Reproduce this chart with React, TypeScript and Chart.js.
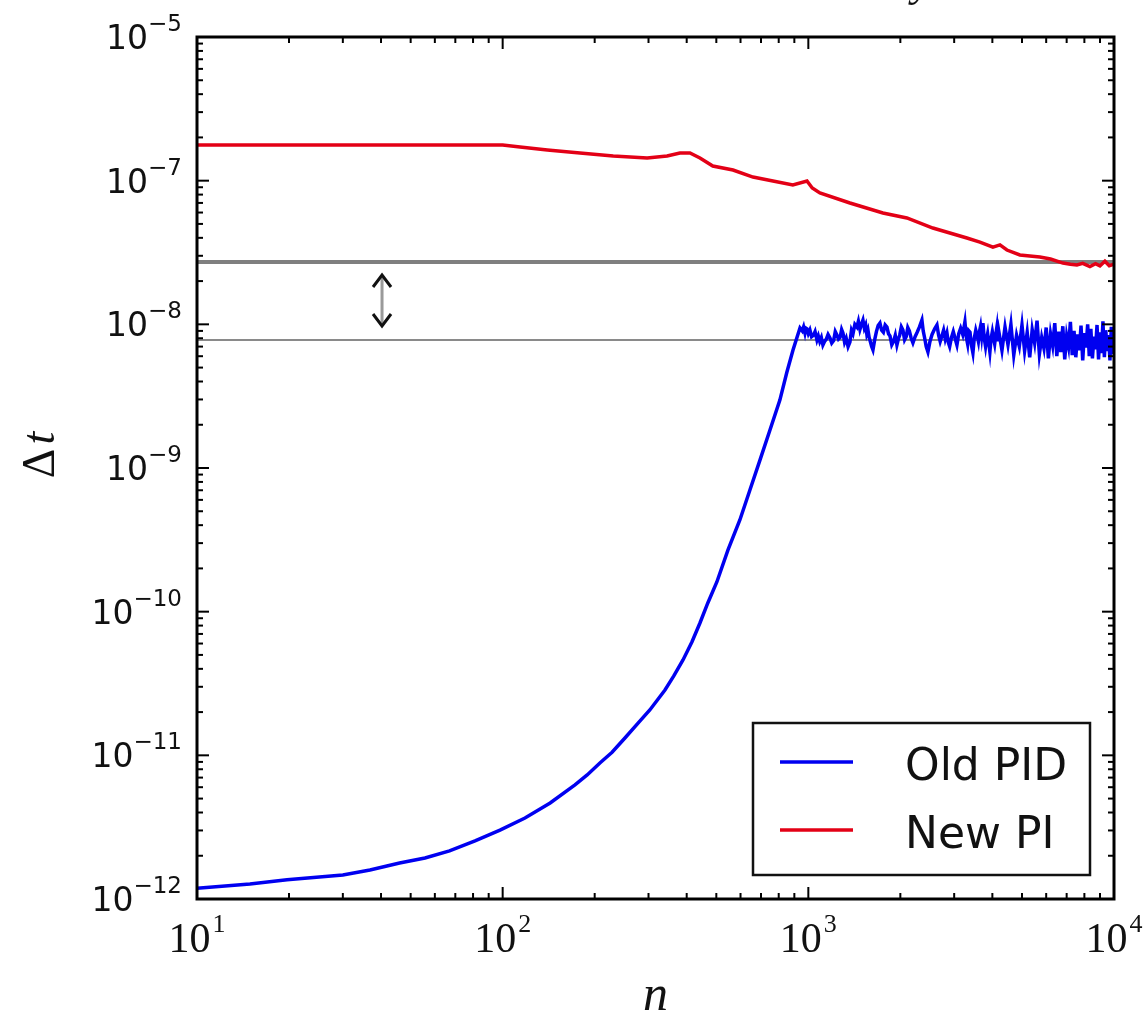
import React, { useEffect, useRef } from 'react';
import { Chart, registerables } from 'chart.js';

Chart.register(...registerables);

const W = 1146;
const H = 1025;

// ---------- data ----------
// Old PID: rising part
const oldPidRiseN = [
  10, 14.9, 19.7, 30, 36.8, 46, 55.7, 67, 81.2, 98, 118.3, 143, 172.4, 189, 208, 228, 251.2, 281, 303, 339.6, 363, 389, 416, 442,
  469, 502, 546, 597, 644, 695, 749, 807, 851, 891, 939,
];
const oldPidRiseDt = [
  1.19e-12, 1.27e-12, 1.36e-12, 1.47e-12, 1.59e-12, 1.78e-12, 1.93e-12, 2.16e-12, 2.54e-12, 3.02e-12, 3.66e-12, 4.66e-12, 6.22e-12,
  7.3e-12, 8.85e-12, 1.05e-11, 1.32e-11, 1.73e-11, 2.07e-11, 2.85e-11, 3.57e-11, 4.61e-11, 6.15e-11, 8.34e-11, 1.15e-10, 1.61e-10,
  2.69e-10, 4.35e-10, 7.03e-10, 1.14e-9, 1.84e-9, 2.97e-9, 4.66e-9, 6.63e-9, 9.43e-9,
];
// Old PID: noisy plateau, first part
const oldPidMidN = [
  955, 965, 975, 982, 990, 1000, 1012, 1025, 1040, 1052, 1067, 1078, 1090, 1103, 1116, 1130, 1145, 1160, 1177, 1193,
  1210, 1225, 1240, 1255, 1270, 1285, 1298, 1314, 1330, 1349, 1368, 1384, 1400, 1420, 1442, 1458, 1475, 1492, 1509, 1525,
  1540, 1553, 1567, 1581, 1595, 1611, 1627, 1648, 1670, 1692, 1715, 1737, 1760, 1784, 1808, 1829, 1850, 1875, 1900, 1925,
  1949, 1970, 1990, 2015, 2039, 2065, 2090, 2115, 2140, 2170, 2199, 2235, 2270, 2310, 2353, 2376, 2400, 2430, 2462, 2500,
  2540, 2590, 2635, 2668, 2700, 2735, 2770, 2805, 2841, 2870, 2900, 2940, 2980, 3020, 3063, 3105, 3150, 3200, 3253, 3285,
  3320, 3350, 3380, 3415, 3455, 3490, 3530, 3565, 3600, 3630, 3660, 3690, 3726, 3760, 3800, 3830, 3860, 3890, 3926, 3960,
  4000, 4035, 4070, 4105, 4139, 4170,
];
const oldPidMidDt = [
  9.0e-9, 9.6e-9, 8.7e-9, 9.4e-9, 9.3e-9, 8.6e-9, 9.13e-9, 8.2e-9, 8.4e-9, 8.9e-9, 7.78e-9, 8.3e-9, 7.6e-9, 8.1e-9, 7.18e-9, 7.6e-9, 7.9e-9, 8.5e-9, 8.03e-9, 7.4e-9,
  7.7e-9, 8.9e-9, 8.43e-9, 7.9e-9, 8.1e-9, 9.2e-9, 8.7e-9, 7.5e-9, 8.0e-9, 7.0e-9, 7.54e-9, 9.1e-9, 8.6e-9, 1.0e-8, 9.58e-9, 1.05e-8, 9.2e-9, 1.0e-8, 1.07e-8, 9.4e-9,
  9.9e-9, 8.6e-9, 9.13e-9, 8.1e-9, 7.6e-9, 7.0e-9, 6.63e-9, 7.8e-9, 8.9e-9, 9.8e-9, 1.02e-8, 9.1e-9, 8.8e-9, 9.9e-9, 9.58e-9, 8.6e-9, 8.3e-9, 7.2e-9, 7.6e-9, 8.4e-9,
  7.18e-9, 7.9e-9, 8.4e-9, 9.6e-9, 9.13e-9, 7.8e-9, 8.2e-9, 9.5e-9, 9.0e-9, 8.0e-9, 7.42e-9, 8.2e-9, 8.8e-9, 9.6e-9, 1.07e-8, 9.0e-9, 8.1e-9, 7.0e-9, 6.42e-9, 7.6e-9,
  8.5e-9, 9.3e-9, 9.89e-9, 8.4e-9, 7.6e-9, 8.3e-9, 9.1e-9, 7.9e-9, 8.7e-9, 7.5e-9, 7.0e-9, 8.1e-9, 8.9e-9, 8.0e-9, 7.18e-9, 8.6e-9, 9.4e-9, 8.5e-9, 1.04e-8, 8.2e-9,
  7.3e-9, 9.0e-9, 8.8e-9, 7.2e-9, 6.32e-9, 8.0e-9, 9.1e-9, 8.4e-9, 7.6e-9, 8.9e-9, 9.7e-9, 8.3e-9, 1.02e-8, 8.1e-9, 7.0e-9, 7.9e-9, 8.6e-9, 7.5e-9, 6.42e-9, 7.9e-9,
  8.9e-9, 8.0e-9, 7.3e-9, 8.5e-9, 9.58e-9, 7.6e-9,
];
// Old PID: noisy plateau, dense tail
const oldPidTailN = [
  4200, 4300, 4400, 4500, 4600, 4700, 4800, 4900, 5000, 5100, 5200, 5300, 5400, 5500, 5600, 5700, 5800, 5900, 6000, 6100,
  6200, 6300, 6400, 6500, 6600, 6700, 6800, 6900, 7000, 7100, 7200, 7300, 7400, 7500, 7600, 7700, 7800, 7900, 8000, 8100,
  8200, 8300, 8400, 8500, 8600, 8700, 8800, 8900, 9000, 9100, 9200, 9300, 9400, 9500, 9600, 9700, 9800, 9900, 10000,
];
const oldPidTailDt = [
  8.9e-9, 6.6e-9, 9.6e-9, 7.2e-9, 1.0e-8, 6.1e-9, 8.4e-9, 7.0e-9, 9.9e-9, 6.5e-9, 8.8e-9, 5.9e-9, 9.2e-9, 7.4e-9, 1.06e-8, 6.2e-9, 8.1e-9, 6.8e-9, 9.5e-9, 5.8e-9,
  8.6e-9, 7.1e-9, 1.02e-8, 6.0e-9, 8.9e-9, 6.4e-9, 9.7e-9, 5.7e-9, 8.3e-9, 7.0e-9, 1.04e-8, 6.1e-9, 9.0e-9, 5.9e-9, 8.5e-9, 6.6e-9, 9.8e-9, 5.6e-9, 8.7e-9, 6.9e-9,
  1.0e-8, 6.0e-9, 9.3e-9, 5.8e-9, 8.2e-9, 6.7e-9, 9.9e-9, 5.7e-9, 8.8e-9, 6.3e-9, 1.05e-8, 5.9e-9, 9.1e-9, 6.5e-9, 8.4e-9, 5.6e-9, 9.6e-9, 6.2e-9, 8.0e-9,
];

const newPiN = [
  10, 100, 114, 140, 179, 230, 297, 345, 380, 410, 442, 487, 567, 659, 766, 890, 990, 1030, 1091, 1368, 1754, 2101, 2555, 3302,
  3642, 4017, 4235, 4464, 4922, 5721, 6200, 6807, 7200, 7562, 7900, 8342, 8700, 8993, 9338, 9650, 10000,
];
const newPiDt = [
  1.771e-7, 1.771e-7, 1.715e-7, 1.635e-7, 1.558e-7, 1.485e-7, 1.438e-7, 1.485e-7, 1.558e-7, 1.558e-7, 1.438e-7, 1.265e-7,
  1.186e-7, 1.06e-7, 9.95e-8, 9.33e-8, 9.95e-8, 8.9e-8, 8.21e-8, 6.99e-8, 5.96e-8, 5.5e-8, 4.68e-8, 3.99e-8, 3.74e-8, 3.45e-8,
  3.57e-8, 3.29e-8, 3.04e-8, 2.94e-8, 2.85e-8, 2.67e-8, 2.62e-8, 2.59e-8, 2.66e-8, 2.52e-8, 2.64e-8, 2.55e-8, 2.75e-8, 2.56e-8,
  2.62e-8,
];

const refN = [10, 10000];
const refUpperDt = 2.72e-8;
const refLowerDt = 7.78e-9;

const arrowN = 40.3;
const arrowTopDt = 2.24e-8;
const arrowBottomDt = 9.58e-9;

const seriesLabels = ['Old PID', 'New PI'];
const seriesColors = ['#0000f0', '#e30016'];

const xTickValues = [10, 100, 1000, 10000];
const xTickExps = ['1', '2', '3', '4'];
const yTickValues = [1e-6, 1e-7, 1e-8, 1e-9, 1e-10, 1e-11, 1e-12];
const yTickExps = ['\u22125', '\u22127', '\u22128', '\u22129', '\u221210', '\u221211', '\u221212'];
const xTitle = 'n';
const yTitleSymbol = '\u0394';
const yTitleVar = 't';

// ---------- plugin ----------
const decorPlugin = {
  id: 'decor',
  afterDatasetsDraw(chart: any) {
    const ctx: CanvasRenderingContext2D = chart.ctx;
    const { left, right, top, bottom } = chart.chartArea;
    const xs = chart.scales.x;
    const ys = chart.scales.y;
    ctx.save();

    const seg = (x1: number, y1: number, x2: number, y2: number) => {
      ctx.beginPath();
      ctx.moveTo(x1, y1);
      ctx.lineTo(x2, y2);
      ctx.stroke();
    };

    // double arrow
    const ax = xs.getPixelForValue(arrowN);
    const ay1 = ys.getPixelForValue(arrowTopDt);
    const ay2 = ys.getPixelForValue(arrowBottomDt);
    ctx.lineCap = 'butt';
    ctx.strokeStyle = '#9a9a9a';
    ctx.lineWidth = 3;
    seg(ax, ay1 + 4, ax, ay2 - 4);
    ctx.strokeStyle = '#111';
    ctx.lineWidth = 3;
    ctx.lineJoin = 'miter';
    ctx.beginPath();
    ctx.moveTo(ax - 9, ay1 + 13);
    ctx.lineTo(ax, ay1 + 1);
    ctx.lineTo(ax + 9, ay1 + 13);
    ctx.stroke();
    ctx.beginPath();
    ctx.moveTo(ax - 9, ay2 - 13);
    ctx.lineTo(ax, ay2 - 1);
    ctx.lineTo(ax + 9, ay2 - 13);
    ctx.stroke();

    // ticks (inward, all four sides)
    ctx.strokeStyle = '#000';
    ctx.lineWidth = 2;
    const majorLen = 12;
    const minorLen = 6;
    const xTick = (v: number, len: number) => {
      const p = xs.getPixelForValue(v);
      seg(p, bottom, p, bottom - len);
      seg(p, top, p, top + len);
    };
    const yTick = (v: number, len: number) => {
      const p = ys.getPixelForValue(v);
      seg(left, p, left + len, p);
      seg(right, p, right - len, p);
    };
    xTickValues.forEach((v, i) => {
      xTick(v, majorLen);
      if (i < xTickValues.length - 1) for (let k = 2; k <= 9; k++) xTick(v * k, minorLen);
    });
    yTickValues.forEach((v, i) => {
      yTick(v, majorLen);
      if (i > 0) for (let k = 2; k <= 9; k++) yTick(v * k, minorLen);
    });

    // frame
    ctx.lineWidth = 3;
    ctx.strokeRect(left, top, right - left, bottom - top);

    // y tick labels
    ctx.fillStyle = '#111';
    ctx.textBaseline = 'alphabetic';
    yTickValues.forEach((v, i) => {
      const p = ys.getPixelForValue(v);
      const rightX = left - 15;
      ctx.font = "23px 'DejaVu Sans'";
      const ew = ctx.measureText(yTickExps[i]).width;
      ctx.textAlign = 'right';
      ctx.fillText(yTickExps[i], rightX, p - 6);
      ctx.font = "33px 'DejaVu Sans'";
      ctx.fillText('10', rightX - ew, p + 12);
    });

    // x tick labels
    xTickValues.forEach((v, i) => {
      const p = xs.getPixelForValue(v);
      ctx.font = "42px 'Liberation Serif'";
      const bw = ctx.measureText('10').width;
      ctx.font = "26px 'Liberation Serif'";
      const ew = ctx.measureText(xTickExps[i]).width;
      const total = bw + 2 + ew;
      const x0 = p - total / 2;
      ctx.textAlign = 'left';
      ctx.font = "42px 'Liberation Serif'";
      ctx.fillText('10', x0, bottom + 53);
      ctx.font = "26px 'Liberation Serif'";
      ctx.fillText(xTickExps[i], x0 + bw + 2, bottom + 33);
    });

    // axis titles
    ctx.font = "italic 50px 'Liberation Serif'";
    ctx.textAlign = 'center';
    ctx.fillText(xTitle, (left + right) / 2, bottom + 111);

    ctx.save();
    ctx.translate(54, 455);
    ctx.rotate(-Math.PI / 2);
    ctx.font = "46px 'Liberation Serif'";
    const dw = ctx.measureText(yTitleSymbol).width;
    ctx.font = "italic 46px 'Liberation Serif'";
    const tw = ctx.measureText(yTitleVar).width;
    const sx = -(dw + 4 + tw) / 2;
    ctx.textAlign = 'left';
    ctx.font = "46px 'Liberation Serif'";
    ctx.fillText(yTitleSymbol, sx, 0);
    ctx.font = "italic 46px 'Liberation Serif'";
    ctx.fillText(yTitleVar, sx + dw + 4, 0);
    ctx.restore();

    // clipped title fragment at top
    ctx.font = "italic 44px 'Liberation Serif'";
    ctx.textAlign = 'left';
    ctx.fillText('y', 912, -4);

    // legend
    const lx = 753, ly = 723, lw = 337, lh = 152;
    ctx.fillStyle = '#fff';
    ctx.fillRect(lx, ly, lw, lh);
    ctx.strokeStyle = '#111';
    ctx.lineWidth = 2.5;
    ctx.strokeRect(lx, ly, lw, lh);
    const entries = chart.data.datasets.filter((d: any) => seriesLabels.includes(d.label));
    entries.forEach((d: any, i: number) => {
      const yLine = 762 + i * 68;
      ctx.strokeStyle = d.borderColor;
      ctx.lineWidth = 3.5;
      seg(780, yLine, 853, yLine);
      ctx.fillStyle = '#111';
      ctx.font = "44px 'DejaVu Sans'";
      ctx.textAlign = 'left';
      ctx.fillText(d.label, 905, yLine + 18);
    });

    ctx.restore();
  },
};

export default function App() {
  const canvasRef = useRef<HTMLCanvasElement | null>(null);

  useEffect(() => {
    const canvas = canvasRef.current;
    if (!canvas) return;
    const toPoints = (xs: number[], ys: number[]) => xs.map((x, i) => ({ x, y: ys[i] }));
    const oldPidPoints = [
      ...toPoints(oldPidRiseN, oldPidRiseDt),
      ...toPoints(oldPidMidN, oldPidMidDt),
      ...toPoints(oldPidTailN, oldPidTailDt),
    ];
    const chart = new Chart(canvas, {
      type: 'line',
      data: {
        datasets: [
          {
            label: seriesLabels[0],
            data: oldPidPoints,
            borderColor: seriesColors[0],
            backgroundColor: seriesColors[0],
            borderWidth: 3.5,
            pointRadius: 0,
            tension: 0,
            order: 1,
          },
          {
            label: seriesLabels[1],
            data: toPoints(newPiN, newPiDt),
            borderColor: seriesColors[1],
            backgroundColor: seriesColors[1],
            borderWidth: 3.5,
            pointRadius: 0,
            tension: 0,
            order: 1,
          },
          {
            label: 'upper reference',
            data: toPoints(refN, [refUpperDt, refUpperDt]),
            borderColor: '#7f7f7f',
            borderWidth: 4,
            pointRadius: 0,
            order: 3,
          },
          {
            label: 'lower reference',
            data: toPoints(refN, [refLowerDt, refLowerDt]),
            borderColor: '#8a8a8a',
            borderWidth: 2,
            pointRadius: 0,
            order: 3,
          },
        ],
      } as any,
      options: {
        animation: false,
        responsive: false,
        devicePixelRatio: 1,
        layout: { padding: { left: 197, right: 32, top: 37, bottom: 126 } },
        plugins: { legend: { display: false }, tooltip: { enabled: false } },
        scales: {
          x: { type: 'logarithmic', min: 10, max: 10000, bounds: 'data', display: false },
          y: { type: 'logarithmic', min: 1e-12, max: 1e-6, bounds: 'data', display: false },
        },
      } as any,
      plugins: [decorPlugin],
    });
    return () => chart.destroy();
  }, []);

  return (
    <div style={{ position: 'fixed', left: 0, top: 0, width: W, height: H, background: '#fff' }}>
      <canvas ref={canvasRef} width={W} height={H} style={{ width: W, height: H, display: 'block' }} />
    </div>
  );
}
